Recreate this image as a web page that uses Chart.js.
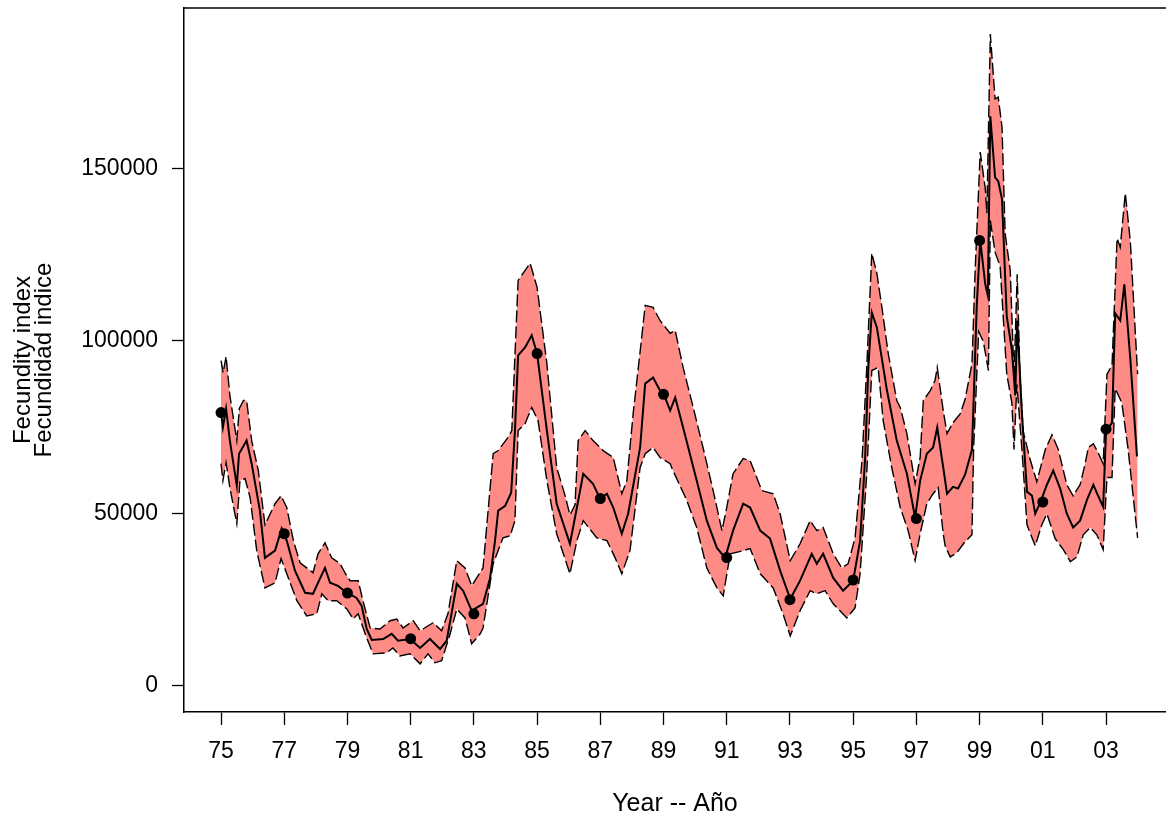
<!DOCTYPE html>
<html><head><meta charset="utf-8">
<script src="https://cdn.jsdelivr.net/npm/chart.js@4"></script>
<style>html,body{margin:0;padding:0;background:#fff;overflow:hidden}#wrap{width:1166px;height:819px;position:relative}</style>
</head><body><div id="wrap"><canvas id="c"></canvas></div>
<script>
// ---- Data ----
const centerYears=[1975.00,1975.06,1975.16,1975.28,1975.50,1975.57,1975.81,1975.97,1976.23,1976.39,1976.71,1976.92,1977.08,1977.34,1977.66,1977.91,1978.13,1978.29,1978.45,1978.70,1978.98,1979.29,1979.45,1979.61,1979.77,1980.13,1980.40,1980.60,1980.98,1981.30,1981.61,1981.93,1982.14,1982.46,1982.66,1982.93,1983.29,1983.51,1983.67,1983.77,1983.99,1984.18,1984.30,1984.40,1984.62,1984.83,1985.00,1985.31,1985.62,1986.04,1986.26,1986.46,1986.77,1986.99,1987.21,1987.41,1987.68,1987.88,1988.26,1988.42,1988.67,1988.89,1989.00,1989.21,1989.37,1989.62,1990.05,1990.37,1990.69,1990.95,1991.20,1991.52,1991.74,1992.06,1992.37,1992.69,1993.01,1993.32,1993.69,1993.85,1994.05,1994.37,1994.68,1995.00,1995.22,1995.38,1995.48,1995.59,1995.75,1996.07,1996.38,1996.70,1996.96,1997.12,1997.33,1997.53,1997.66,1997.85,1997.97,1998.16,1998.32,1998.54,1998.76,1998.91,1999.02,1999.18,1999.26,1999.34,1999.49,1999.59,1999.71,1999.86,2000.02,2000.13,2000.19,2000.34,2000.50,2000.66,2000.76,2000.92,2001.13,2001.33,2001.55,2001.76,2001.96,2002.18,2002.40,2002.60,2002.75,2002.91,2003.00,2003.19,2003.29,2003.45,2003.58,2003.77,2003.98];
const centerValues=[79200,74900,80400,71100,58000,67300,71100,64400,50800,37100,39200,45600,42100,33400,27000,26700,31100,34200,29900,29000,27000,25500,23200,16500,13300,13600,15100,13100,13600,11000,13600,10700,13100,29600,27600,21800,23800,31100,42100,50800,52200,56000,74000,95800,98100,101600,96300,74000,52800,41200,51700,61500,58600,54300,55700,51700,44100,49900,69100,87600,89400,85600,84700,79800,83600,74900,59500,47900,40000,37100,45000,52800,51700,45000,42700,33400,25200,30500,38300,35400,38300,31300,27600,30500,42100,66200,92300,108200,103900,85600,71100,61500,48800,59500,67300,69100,74900,63300,55700,57700,57200,61200,68500,110000,129100,116400,113200,165100,147400,146300,141000,107100,97500,84200,105900,78900,56300,55100,49900,53100,58300,62400,57200,49900,45900,47900,54000,58300,55100,51900,73700,76300,108000,105900,116400,94600,66500];

const upperYears=[1975.00,1975.07,1975.16,1975.28,1975.50,1975.58,1975.71,1975.81,1975.97,1976.18,1976.39,1976.71,1976.90,1977.08,1977.29,1977.50,1977.91,1978.07,1978.29,1978.50,1978.77,1978.92,1979.08,1979.34,1979.49,1979.72,1980.03,1980.35,1980.56,1980.76,1981.08,1981.30,1981.71,1981.98,1982.18,1982.46,1982.72,1982.93,1983.29,1983.61,1983.77,1984.08,1984.20,1984.40,1984.56,1984.78,1985.00,1985.31,1985.62,1985.89,1986.04,1986.20,1986.30,1986.52,1986.77,1987.09,1987.41,1987.68,1987.84,1988.04,1988.31,1988.42,1988.67,1988.89,1989.21,1989.37,1989.62,1989.94,1990.25,1990.57,1990.85,1991.00,1991.20,1991.52,1991.74,1992.11,1992.47,1992.69,1993.01,1993.32,1993.64,1993.85,1994.05,1994.37,1994.64,1994.84,1995.06,1995.28,1995.43,1995.59,1995.75,1995.91,1996.11,1996.38,1996.49,1996.70,1996.96,1997.12,1997.22,1997.44,1997.59,1997.66,1997.85,1997.97,1998.16,1998.39,1998.54,1998.76,1998.86,1999.02,1999.18,1999.23,1999.34,1999.49,1999.59,1999.71,1999.81,1999.97,2000.09,2000.19,2000.28,2000.38,2000.60,2000.81,2001.08,2001.29,2001.49,2001.76,2001.96,2002.18,2002.34,2002.44,2002.60,2002.75,2002.91,2003.03,2003.19,2003.35,2003.45,2003.61,2003.77,2004.00];
const upperValues=[94300,90800,95500,84200,71100,80400,82700,82700,71100,62400,46700,52800,55100,51700,42100,35700,32800,38300,41500,37100,35400,32800,30500,30500,24700,16800,16500,18900,19400,16800,18900,16000,18300,16000,20900,36300,34200,29000,34200,67300,68200,72000,74000,117500,119600,122500,115500,93400,63300,55000,49500,52500,71100,74000,71100,68200,66200,55700,59500,78900,101000,110300,109700,105900,102200,103000,92300,80700,69100,56600,45000,51700,61500,65900,65300,56600,55700,49900,36300,41200,47900,45000,45900,38300,34200,35400,42900,65300,92300,125400,119600,109700,96300,82700,80700,73100,58600,66200,82700,85600,88500,92300,79800,73100,76300,78900,83000,93400,120400,154700,144200,137000,188900,170100,170600,161900,130900,120400,89400,119300,89400,73700,65600,59200,68500,72800,68500,58300,55100,58300,64400,69100,70200,67600,64400,90300,92900,129700,127100,142800,128800,90300];

const lowerYears=[1975.00,1975.06,1975.16,1975.28,1975.50,1975.60,1975.76,1975.92,1976.13,1976.39,1976.71,1976.90,1977.08,1977.40,1977.71,1978.03,1978.19,1978.39,1978.66,1978.98,1979.18,1979.34,1979.56,1979.81,1980.24,1980.44,1980.66,1980.98,1981.30,1981.55,1981.77,1981.98,1982.25,1982.46,1982.72,1982.93,1983.20,1983.29,1983.61,1983.92,1984.15,1984.30,1984.40,1984.62,1984.83,1985.03,1985.31,1985.62,1986.04,1986.26,1986.46,1986.89,1987.21,1987.47,1987.68,1987.94,1988.26,1988.42,1988.67,1988.89,1989.21,1989.30,1989.74,1990.05,1990.37,1990.69,1990.89,1991.11,1991.52,1991.74,1992.06,1992.47,1992.78,1993.01,1993.32,1993.64,1993.85,1994.11,1994.37,1994.80,1995.06,1995.22,1995.43,1995.59,1995.79,1995.95,1996.22,1996.49,1996.74,1996.96,1997.12,1997.33,1997.53,1997.69,1997.85,1997.91,1998.07,1998.28,1998.54,1998.76,1998.81,1998.97,1999.12,1999.28,1999.34,1999.49,1999.65,1999.86,2000.02,2000.09,2000.18,2000.34,2000.50,2000.76,2000.97,2001.13,2001.39,2001.65,2001.87,2002.08,2002.28,2002.50,2002.71,2002.91,2003.03,2003.19,2003.29,2003.50,2003.70,2004.00];
const lowerValues=[64400,59500,64700,57500,47000,59500,60100,54600,39200,28400,29900,36900,32500,24700,20300,20900,26700,24700,24700,22300,19400,20900,15100,9300,9600,11000,8700,9300,6400,9300,6700,7300,15100,22300,19700,12200,15100,16800,35400,42900,43500,47900,74000,76000,80700,76900,59500,44100,32500,42100,47900,42900,42100,37100,32500,39200,63300,67300,69100,66200,64400,62400,53700,45900,34200,28400,26100,38300,39200,39800,32500,28400,20900,14500,21800,27600,26700,27600,23800,19700,22600,32500,61500,91400,92300,76900,63300,51700,45000,36300,44100,52800,55700,57500,44100,40600,37400,38600,41800,43800,68500,102700,99800,91400,134900,125700,121600,90300,82100,68500,87400,68500,46700,40600,46700,49900,42700,39500,36000,37400,43800,45900,43800,39500,60400,60400,86200,82100,68500,42900];

const dotYears=[1975,1977,1979,1981,1983,1985,1987,1989,1991,1993,1995,1997,1999,2001,2003];
const dotValues=[79200,44100,26900,13700,20900,96300,54300,84500,37200,25000,30700,48500,129100,53300,74400];

const xTickYears=[1975,1977,1979,1981,1983,1985,1987,1989,1991,1993,1995,1997,1999,2001,2003];
const yTickValues=[0,50000,100000,150000];
const xAxisTitle='Year -- Año';
const yAxisTitle=['Fecundity index','Fecundidad indice'];

// ---- Chart ----
function pts(xs, ys){ return xs.map((x,i)=>({x:x, y:ys[i]})); }
const FONT="'Liberation Sans', Arial, Helvetica, sans-serif";

function noPad(s){ s.paddingTop=0; s.paddingBottom=0; s.paddingLeft=0; s.paddingRight=0; }

const topBorder={id:'topBorder',afterDraw(chart){
  const {ctx, chartArea:a}=chart;
  ctx.save(); ctx.strokeStyle='#000'; ctx.lineWidth=1.5;
  ctx.beginPath(); ctx.moveTo(a.left, a.top); ctx.lineTo(a.right, a.top); ctx.stroke();
  ctx.restore();
}};

new Chart(document.getElementById('c'),{
  type:'line',
  data:{datasets:[
    {label:'upper',data:pts(upperYears,upperValues),borderColor:'#000',borderWidth:1.4,borderDash:[12,4],
     backgroundColor:'rgb(255,139,135)',fill:'+1',pointRadius:0,tension:0,order:2},
    {label:'lower',data:pts(lowerYears,lowerValues),borderColor:'#000',borderWidth:1.4,borderDash:[12,4],
     fill:false,pointRadius:0,tension:0,order:2},
    {label:'center',data:pts(centerYears,centerValues),borderColor:'#000',borderWidth:2,fill:false,
     pointRadius:0,tension:0,order:1},
    {label:'observed',data:pts(dotYears,dotValues),showLine:false,pointRadius:5.5,pointHoverRadius:5.5,
     pointBackgroundColor:'#000',pointBorderColor:'#000',pointBorderWidth:0,order:0}
  ]},
  options:{
    responsive:true,maintainAspectRatio:false,animation:false,
    layout:{autoPadding:false,padding:{top:8,left:0,right:0,bottom:0}},
    plugins:{legend:{display:false},tooltip:{enabled:false},filler:{drawTime:'beforeDatasetsDraw'}},
    scales:{
      x:{type:'linear',min:1973.829,max:2004.898,
        afterBuildTicks:s=>{s.ticks=xTickYears.map(v=>({value:v}));},
        afterFit:s=>{s.height=107; noPad(s);},
        ticks:{autoSkip:false,maxRotation:0,minRotation:0,padding:13,color:'#000',
          font:{family:FONT,size:23},callback:v=>String(v%100).padStart(2,'0')},
        grid:{drawOnChartArea:false,drawTicks:true,tickLength:13,tickColor:'#000',tickWidth:1.3},
        border:{display:true,color:'#000',width:1.5},
        title:{display:true,text:xAxisTitle,color:'#000',font:{family:FONT,size:25,lineHeight:1.0},padding:{top:0,bottom:2}}
      },
      y:{type:'linear',min:-7556,max:196456,
        afterBuildTicks:s=>{s.ticks=yTickValues.map(v=>({value:v}));},
        afterFit:s=>{s.width=184; noPad(s);},
        ticks:{padding:14,color:'#000',font:{family:FONT,size:23},callback:v=>String(v)},
        grid:{drawOnChartArea:false,drawTicks:true,tickLength:12,tickColor:'#000',tickWidth:1.3},
        border:{display:true,color:'#000',width:1.5},
        title:{display:true,text:yAxisTitle,color:'#000',font:{family:FONT,size:24,lineHeight:'21px'},padding:{top:12.5,bottom:0}}
      }
    }
  },
  plugins:[topBorder]
});
</script></body></html>
